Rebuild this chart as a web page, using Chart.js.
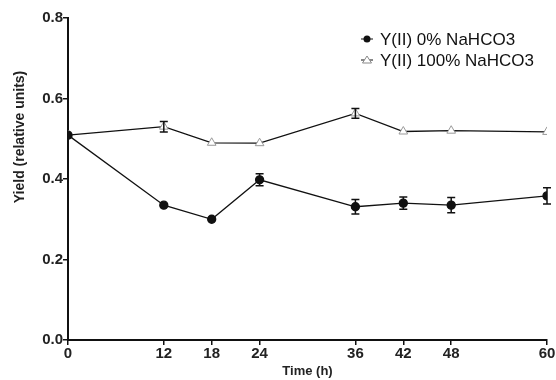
<!DOCTYPE html>
<html>
<head>
<meta charset="utf-8">
<script src="https://cdn.jsdelivr.net/npm/chart.js@4.4.0/dist/chart.umd.min.js"></script>
<style>
  html, body { margin: 0; padding: 0; background: #fff; }
  #wrap { width: 556px; height: 380px; }
</style>
</head>
<body>
<div id="wrap"><canvas id="chart" width="556" height="380"></canvas></div>
<script>
const hours = [0, 12, 18, 24, 36, 42, 48, 60];
const yield0 = [0.509, 0.335, 0.300, 0.398, 0.331, 0.340, 0.335, 0.358];
const err0 = [0, 0, 0, 0.015, 0.018, 0.015, 0.019, 0.020];
const yield100 = [0.509, 0.530, 0.490, 0.489, 0.563, 0.518, 0.520, 0.517];
const err100 = [0, 0.013, 0, 0, 0.012, 0, 0, 0];
const yTicks = [0, 0.2, 0.4, 0.6, 0.8];
const labels = ['Y(II) 0% NaHCO3', 'Y(II) 100% NaHCO3'];
const yTitle = 'Yield (relative units)';

const font = 'Liberation Sans, Arial, sans-serif';

// error bars, drawn through the chart's scales
const errorBars = {
  id: 'errorBars',
  afterDatasetsDraw(chart) {
    const ctx = chart.ctx;
    const x = chart.scales.x, y = chart.scales.y;
    chart.data.datasets.forEach(ds => {
      ctx.save();
      ctx.strokeStyle = '#111';
      ctx.lineWidth = 1.5;
      ds.data.forEach((p, i) => {
        const e = ds.errors[i];
        if (!e) return;
        const px = x.getPixelForValue(p.x);
        const top = y.getPixelForValue(p.y + e);
        const bot = y.getPixelForValue(p.y - e);
        ctx.beginPath();
        ctx.moveTo(px, top); ctx.lineTo(px, bot);
        ctx.moveTo(px - 4, top); ctx.lineTo(px + 4, top);
        ctx.moveTo(px - 4, bot); ctx.lineTo(px + 4, bot);
        ctx.stroke();
      });
      ctx.restore();
    });
  }
};

// legend in the upper right + y title (sits above centre in the original)
const extras = {
  id: 'extras',
  afterDraw(chart) {
    const ctx = chart.ctx;
    ctx.save();
    chart.data.datasets.forEach((ds, i) => {
      const cy = 39 + i * 21;
      ctx.strokeStyle = '#111';
      ctx.lineWidth = 1;
      ctx.beginPath();
      ctx.moveTo(361, cy); ctx.lineTo(373, cy);
      ctx.stroke();
      ctx.beginPath();
      if (i === 0) {
        ctx.fillStyle = '#111';
        ctx.arc(367, cy, 3.5, 0, Math.PI * 2);
        ctx.fill();
      } else {
        ctx.fillStyle = '#fff';
        ctx.strokeStyle = '#888';
        ctx.moveTo(367, cy - 4); ctx.lineTo(371.5, cy + 3); ctx.lineTo(362.5, cy + 3); ctx.closePath();
        ctx.fill(); ctx.stroke();
      }
      ctx.fillStyle = '#111';
      ctx.font = '17px ' + font;
      ctx.textBaseline = 'middle';
      ctx.fillText(ds.label, 380, cy + 1);
    });

    ctx.translate(20, 137);
    ctx.rotate(-Math.PI / 2);
    ctx.fillStyle = '#222';
    ctx.font = 'bold 14px ' + font;
    ctx.textAlign = 'center';
    ctx.textBaseline = 'middle';
    ctx.fillText(yTitle, 0, 0);
    ctx.restore();
  }
};

new Chart(document.getElementById('chart'), {
  type: 'line',
  data: {
    datasets: [
      {
        label: labels[0],
        data: hours.map((h, i) => ({ x: h, y: yield0[i] })),
        errors: err0,
        borderColor: '#111',
        borderWidth: 1.3,
        pointStyle: 'circle',
        pointRadius: 4,
        pointBackgroundColor: '#111',
        pointBorderColor: '#111',
        tension: 0
      },
      {
        label: labels[1],
        data: hours.map((h, i) => ({ x: h, y: yield100[i] })),
        errors: err100,
        borderColor: '#111',
        borderWidth: 1.3,
        pointStyle: 'triangle',
        pointRadius: 5,
        pointBackgroundColor: '#fff',
        pointBorderColor: '#999',
        pointBorderWidth: 1,
        tension: 0
      }
    ]
  },
  options: {
    responsive: false,
    animation: false,
    layout: { padding: { top: 18, right: 9, left: 0, bottom: 0 } },
    plugins: { legend: { display: false }, tooltip: { enabled: false } },
    scales: {
      x: {
        type: 'linear',
        min: 0, max: 60,
        afterBuildTicks: s => { s.ticks = hours.map(v => ({ value: v })); },
        afterFit: s => { s.height = 40; },
        border: { color: '#111', width: 2 },
        grid: { drawOnChartArea: false, drawTicks: true, tickLength: 5, color: '#111', lineWidth: 1.5 },
        ticks: { color: '#222', font: { family: font, size: 15, weight: 'bold' }, padding: 0, maxRotation: 0, autoSkip: false },
        title: { display: true, text: 'Time (h)', color: '#222', font: { family: font, size: 13, weight: 'bold' }, padding: { top: 0, bottom: 1 } }
      },
      y: {
        min: 0, max: 0.8,
        afterBuildTicks: s => { s.ticks = yTicks.map(v => ({ value: v })); },
        afterFit: s => { s.width = 68; },
        border: { color: '#111', width: 2 },
        grid: { drawOnChartArea: false, drawTicks: true, tickLength: 5, color: '#111', lineWidth: 1.5 },
        ticks: { color: '#222', font: { family: font, size: 15, weight: 'bold' }, padding: 0, callback: v => v.toFixed(1) }
      }
    }
  },
  plugins: [errorBars, extras]
});
</script>
</body>
</html>
